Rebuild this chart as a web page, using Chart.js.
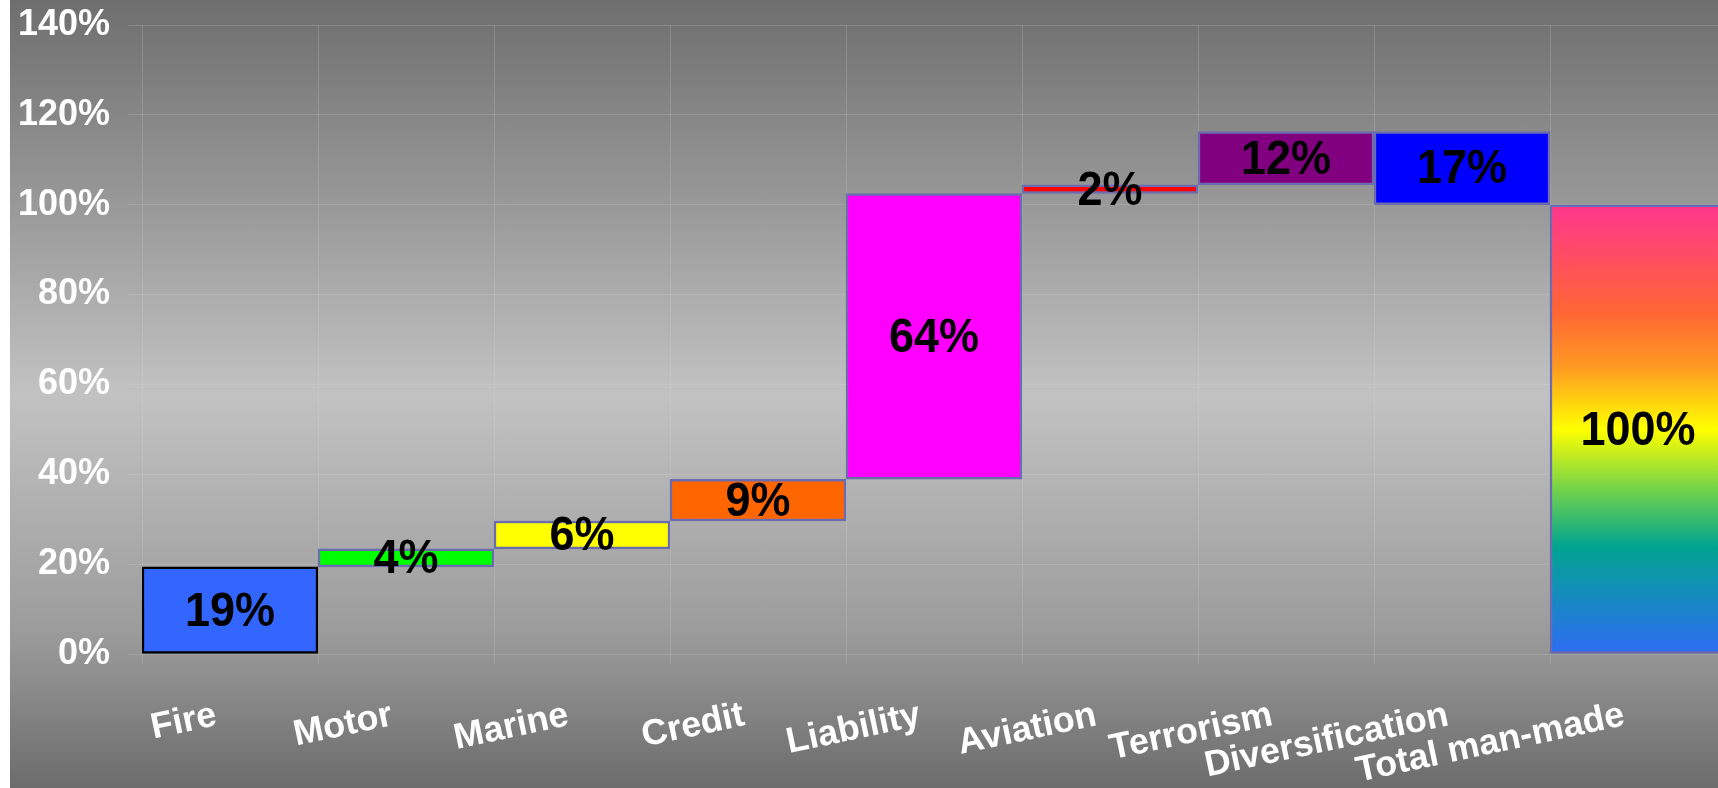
<!DOCTYPE html>
<html>
<head>
<meta charset="utf-8">
<script src="https://cdn.jsdelivr.net/npm/chart.js@4.4.1/dist/chart.umd.min.js"></script>
<style>
  html, body { margin: 0; padding: 0; background: #fff; overflow: hidden; }
  #wrap {
    position: absolute; left: 10px; top: 0;
    width: 1740px; height: 788px;
    background: linear-gradient(to bottom, #6e6e6e 0%, #9c9c9c 28%, #c2c2c2 50%, #9c9c9c 80%, #6c6c6c 100%);
  }
</style>
</head>
<body>
<div id="wrap"><canvas id="chart"></canvas></div>
<script>
// categories and waterfall steps (in %)
const categories = ['Fire', 'Motor', 'Marine', 'Credit', 'Liability', 'Aviation', 'Terrorism', 'Diversification', 'Total man-made'];
const stepLow  = [0,    19.4, 23.4, 29.6, 38.9, 102.5, 104.4, 100,   0];
const stepHigh = [19.4, 23.4, 29.6, 38.9, 102.5, 104.4, 116.3, 116.3, 100];
const shareLabels = ['19%', '4%', '6%', '9%', '64%', '2%', '12%', '17%', '100%'];
const yTicks = [0, 20, 40, 60, 80, 100, 120, 140];

const fills = ['#3366ff', '#00ff00', '#ffff00', '#ff6600', '#ff00ff', '#ff0000', '#800080', '#0000ff', null];
const edges = ['#000000', '#6b6bb0', '#6b6bb0', '#6b6bb0', '#6b6bb0', '#6b6bb0', '#6b6bb0', '#6b6bb0', '#6b6bb0'];
const FONT = '"Liberation Sans", Arial, sans-serif';

function barFill(ctx) {
  const i = ctx.dataIndex;
  if (fills[i]) return fills[i];
  const chart = ctx.chart;
  if (!chart.chartArea || !chart.scales.y) return '#ff9900';
  const y = chart.scales.y;
  const top = y.getPixelForValue(stepHigh[i]);
  const bot = y.getPixelForValue(stepLow[i]);
  const g = chart.ctx.createLinearGradient(0, top, 0, bot);
  g.addColorStop(0, '#ff368e');
  g.addColorStop(0.24, '#ff6633');
  g.addColorStop(0.36, '#ff9922');
  g.addColorStop(0.5, '#ffff00');
  g.addColorStop(0.63, '#77d448');
  g.addColorStop(0.76, '#00a590');
  g.addColorStop(1, '#2e6cf4');
  return g;
}

// percent labels centred in each bar (slightly tall, like the original)
const shareLabelPlugin = {
  id: 'shareLabels',
  afterDatasetsDraw(chart) {
    const c = chart.ctx;
    const meta = chart.getDatasetMeta(0);
    c.save();
    c.font = 'bold 45px ' + FONT;
    c.fillStyle = '#000';
    c.textAlign = 'center';
    c.textBaseline = 'middle';
    meta.data.forEach((bar, i) => {
      c.save();
      c.translate(bar.x, (bar.y + bar.base) / 2 + 2);
      c.scale(1, 1.08);
      c.fillText(shareLabels[i], 0, 0);
      c.restore();
    });
    c.restore();
  }
};

new Chart(document.getElementById('chart'), {
  type: 'bar',
  data: {
    labels: categories,
    datasets: [{
      data: categories.map((_, i) => [stepLow[i], stepHigh[i]]),
      backgroundColor: barFill,
      borderColor: edges,
      borderWidth: 2.5,
      borderSkipped: false,
      categoryPercentage: 1,
      barPercentage: 1
    }]
  },
  options: {
    responsive: true,
    maintainAspectRatio: false,
    animation: false,
    layout: { padding: { top: 25, right: 24, bottom: 0, left: 0 } },
    plugins: { legend: { display: false }, tooltip: { enabled: false } },
    scales: {
      x: {
        grid: { color: 'rgba(220,220,220,0.2)', lineWidth: 1, tickLength: 10 },
        border: { display: false },
        ticks: {
          color: '#fff',
          font: { family: FONT, size: 36, weight: 'bold' },
          minRotation: 12, maxRotation: 12,
          labelOffset: -14,
          padding: 30,
          autoSkip: false
        },
        afterFit: s => { s.height = 134; }
      },
      y: {
        min: 0, max: 140,
        afterBuildTicks: s => { s.ticks = yTicks.map(v => ({ value: v })); },
        grid: { color: 'rgba(220,220,220,0.2)', lineWidth: 1, tickLength: 14 },
        border: { display: false },
        ticks: {
          color: '#fff',
          font: { family: FONT, size: 36, weight: 'bold' },
          padding: 18,
          callback: v => v + '%'
        },
        afterFit: s => { s.width = 132; s.paddingTop = 0; s.paddingBottom = 0; }
      }
    }
  },
  plugins: [shareLabelPlugin]
});
</script>
</body>
</html>
